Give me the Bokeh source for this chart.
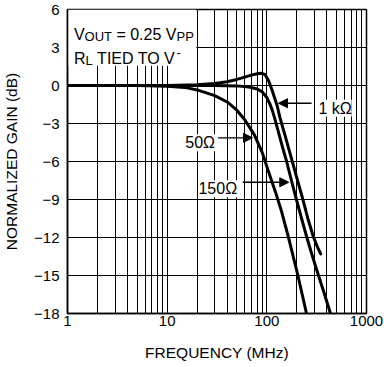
from bokeh.plotting import figure
from bokeh.models import (Range1d, FixedTicker, PrintfTickFormatter, Label,
                          Arrow, NormalHead, BoxAnnotation)
from bokeh.embed import file_html
from bokeh.resources import INLINE

# ---- data ----
freq_1k = [1, 10, 20, 30, 40, 50, 60, 70, 80, 88, 96, 104, 112, 120, 127, 135,
           153, 180, 200, 230, 260, 292, 320, 347]
gain_1k = [0, 0, 0.05, 0.15, 0.3, 0.48, 0.66, 0.82, 0.93, 0.97, 0.85, 0.4, -0.3,
           -1.0, -1.6, -2.5, -4.0, -6.0, -7.3, -9.0, -10.6, -11.9, -12.7, -13.3]

freq_150 = [1, 10, 30, 50, 66, 80, 90, 100, 108, 115, 122, 130, 143, 158, 178,
            198, 225, 252, 290, 330, 380, 435]
gain_150 = [0, 0, 0, -0.03, -0.12, -0.28, -0.5, -0.95, -1.5, -2.1, -2.8, -3.6,
            -4.8, -6.0, -7.6, -9.0, -10.6, -12.0, -13.6, -15.0, -16.5, -18.0]

freq_50 = [1, 5, 10, 15, 20, 30, 40, 50, 60, 75, 90, 105, 122, 140, 165, 205, 250]
gain_50 = [0, 0, -0.05, -0.15, -0.35, -0.8, -1.3, -1.95, -2.7, -3.9, -5.3, -6.9,
           -8.4, -9.9, -12.0, -15.0, -18.0]

x_major = [1, 10, 100, 1000]
x_minor = [m * d for d in (1, 10, 100) for m in range(2, 10)]
y_ticks = [-18, -15, -12, -9, -6, -3, 0, 3, 6]

FONT = "Liberation Sans"

p = figure(width=384, height=367, x_axis_type="log",
           x_range=Range1d(1, 1000), y_range=Range1d(-18, 6),
           output_backend="svg", toolbar_location=None,
           min_border_left=62, min_border_right=18,
           min_border_top=9, min_border_bottom=54)
p.background_fill_color = "white"
p.border_fill_color = "white"
p.outline_line_color = "black"
p.outline_line_width = 1.5

xt = FixedTicker(ticks=x_major, minor_ticks=x_minor)
yt = FixedTicker(ticks=y_ticks)
p.xaxis.ticker = xt
p.xgrid.ticker = xt
p.yaxis.ticker = yt
p.ygrid.ticker = yt
p.xaxis.formatter = PrintfTickFormatter(format="%d")

for g in (p.xgrid, p.ygrid):
    g.grid_line_color = "black"
    g.grid_line_width = 1
    g.grid_line_alpha = 1
p.xgrid.minor_grid_line_color = "black"
p.xgrid.minor_grid_line_width = 1

for ax in (p.xaxis, p.yaxis):
    ax.major_tick_out = 0
    ax.major_tick_in = 0
    ax.minor_tick_out = 0
    ax.minor_tick_in = 0
    ax.axis_line_color = "black"
    ax.axis_line_width = 1.5
    ax.major_label_text_font = FONT
    ax.major_label_text_font_size = "15px"
    ax.major_label_text_color = "black"
    ax.axis_label_text_font = FONT
    ax.axis_label_text_font_size = "15.5px"
    ax.axis_label_text_font_style = "normal"
    ax.axis_label_text_color = "black"

p.xaxis.axis_label = "FREQUENCY (MHz)"
p.yaxis.axis_label = "NORMALIZED GAIN (dB)"
p.xaxis.major_label_standoff = 2
p.xaxis.axis_label_standoff = 15
p.yaxis.major_label_standoff = 8
p.yaxis.axis_label_standoff = 11

# curves
for f, g in ((freq_50, gain_50), (freq_150, gain_150), (freq_1k, gain_1k)):
    p.line(f, g, line_width=3, line_color="black", line_join="round",
           line_cap="round")

# white panel behind the condition note
NOTE_BOX = dict(left=1.0, right=19.6, top=6.0, bottom=1.56)
p.add_layout(BoxAnnotation(**NOTE_BOX, fill_color="white", fill_alpha=1,
                           line_color=None, level="underlay"))


def txt(text, x, y, size, xo=0, yo=0, bg=None):
    lab = Label(x=x, y=y, x_offset=xo, y_offset=yo, text=text,
                text_font=FONT, text_font_size=size, text_color="black",
                text_align="left", text_baseline="alphabetic")
    if bg:
        lab.background_fill_color = bg
    p.add_layout(lab)


NOTE_X = 1.16
LINE1_Y = 4.0
LINE2_Y = 2.1
txt("V", NOTE_X, LINE1_Y, "16px")
txt("OUT", NOTE_X, LINE1_Y, "13px", xo=10.7, yo=-2)
txt("= 0.25 V", NOTE_X, LINE1_Y, "16px", xo=42.5)
txt("PP", NOTE_X, LINE1_Y, "13px", xo=102.6, yo=-2)

txt("R", NOTE_X, LINE2_Y, "16px")
txt("L", NOTE_X, LINE2_Y, "13px", xo=11.6, yo=-2)
txt("TIED TO V", NOTE_X, LINE2_Y, "16px", xo=23.2)
txt("-", NOTE_X, LINE2_Y, "13px", xo=102.5, yo=6)

# curve labels
txt("1 k\u03a9", 329, -1.79, "16px", bg="white")
txt("50\u03a9", 15.2, -4.52, "16px", bg="white")
txt("150\u03a9", 20.6, -8.16, "16px", bg="white")


def arrow(x0, x1, y):
    p.add_layout(Arrow(end=NormalHead(size=9, fill_color="black",
                                      line_color="black", line_width=1),
                       x_start=x0, y_start=y, x_end=x1, y_end=y,
                       line_color="black", line_width=1.3))


arrow(281, 131, -1.40)
arrow(32.4, 71.8, -4.13)
arrow(57.2, 166, -7.64)

open("out.html", "w").write(file_html(p, INLINE))
